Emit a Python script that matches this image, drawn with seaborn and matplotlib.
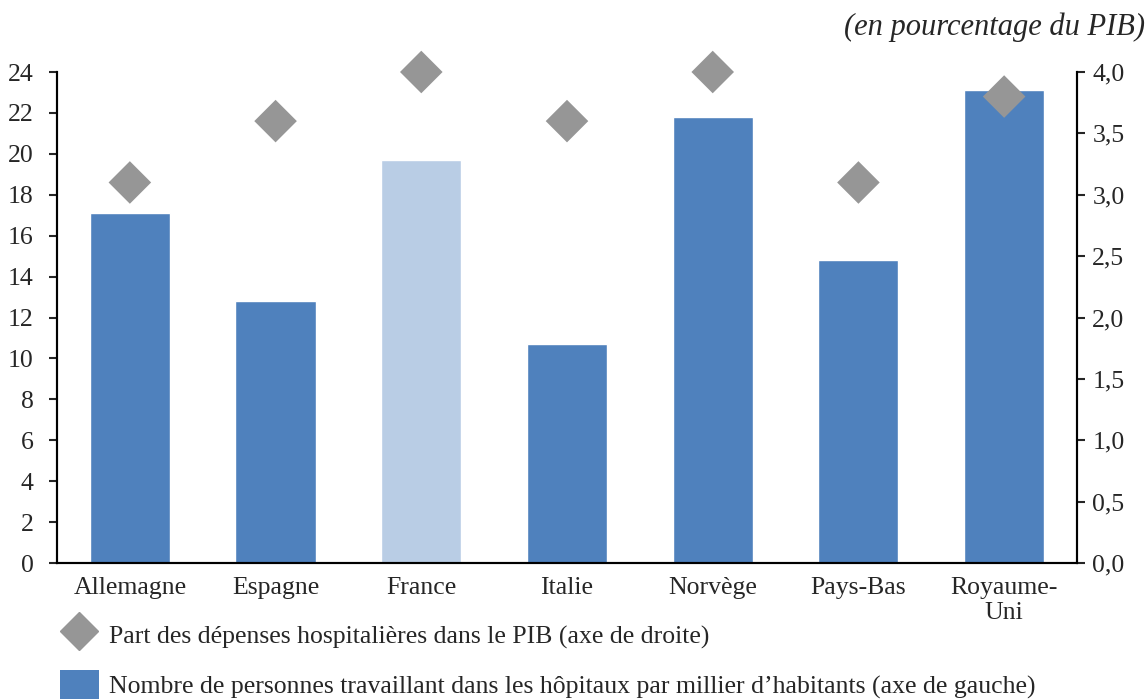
import numpy as np
import pandas as pd
import matplotlib
matplotlib.use("Agg")
import matplotlib.pyplot as plt
import seaborn as sns
from matplotlib.lines import Line2D
from matplotlib.patches import Patch

# data
countries = ["Allemagne", "Espagne", "France", "Italie", "Norvège", "Pays-Bas", "Royaume-\nUni"]
staff_per_1000 = [17.1, 12.8, 19.7, 10.7, 21.8, 14.8, 23.1]
hosp_spend_pct_gdp = [3.1, 3.6, 4.0, 3.6, 4.0, 3.1, 3.8]
highlight = ["autre", "autre", "France", "autre", "autre", "autre", "autre"]

left_ticks = list(range(0, 25, 2))
right_ticks = [0.0, 0.5, 1.0, 1.5, 2.0, 2.5, 3.0, 3.5, 4.0]

bar_blue = "#4F81BD"
light_blue = "#B9CDE5"
diamond_grey = "#969696"

sns.set_theme(style="white")
plt.rcParams["font.family"] = ["Liberation Serif", "DejaVu Serif"]
fs = 18.5

df = pd.DataFrame({"pays": countries, "effectif": staff_per_1000,
                   "depenses": hosp_spend_pct_gdp, "groupe": highlight})

fig = plt.figure(figsize=(11.48, 6.99), dpi=100)
ax = fig.add_axes([57 / 1148, 1 - 563 / 699, (1077 - 57) / 1148, (563 - 72) / 699])

# bars on the left axis, France highlighted in light blue
sns.barplot(data=df, x="pays", y="effectif", hue="groupe",
            palette={"autre": bar_blue, "France": light_blue},
            dodge=False, width=0.55, legend=False, ax=ax, saturation=1)
ax.set_xlim(-0.5, 6.5)
ax.set_ylim(0, 24)
ax.set_yticks(left_ticks)
ax.set_xlabel("")
ax.set_ylabel("")
ax.tick_params(axis="x", length=0, labelsize=fs, pad=10)
ax.tick_params(axis="y", direction="out", length=6, width=1.5, labelsize=fs, left=True, pad=11)

# diamonds on the right axis
ax2 = ax.twinx()
sns.scatterplot(data=df, x="pays", y="depenses", marker="D", s=470,
                color=diamond_grey, edgecolor="none", ax=ax2, zorder=5, clip_on=False)
ax2.set_ylim(0, 4.0)
ax2.set_yticks(right_ticks)
ax2.set_yticklabels([f"{v:.1f}".replace(".", ",") for v in right_ticks])
ax2.set_ylabel("")
ax2.tick_params(axis="y", direction="out", length=6, width=1.5, labelsize=fs, right=True, pad=5)
ax.set_xlim(-0.5, 6.5)

for a in (ax, ax2):
    a.spines["top"].set_visible(False)
    for side in ["left", "right", "bottom"]:
        a.spines[side].set_color("black")
        a.spines[side].set_linewidth(1.5)

fig.text(1145 / 1148, 1 - 27 / 699, "(en pourcentage du PIB)", ha="right", va="center",
         fontsize=22, style="italic")

handles = [
    Line2D([], [], marker="D", linestyle="none", color=diamond_grey, markersize=19),
    Patch(facecolor=bar_blue, edgecolor="none"),
]
labels = [
    "Part des dépenses hospitalières dans le PIB (axe de droite)",
    "Nombre de personnes travaillant dans les hôpitaux par millier d\u2019habitants (axe de gauche)",
]
fig.legend(handles, labels, loc="upper left", bbox_to_anchor=(60 / 1148, 1 - 619 / 699),
           frameon=False, fontsize=fs, handlelength=1.5, handleheight=1.5,
           labelspacing=0.75, handletextpad=0.4, borderpad=0, borderaxespad=0)

plt.savefig("out.png", dpi=100)
